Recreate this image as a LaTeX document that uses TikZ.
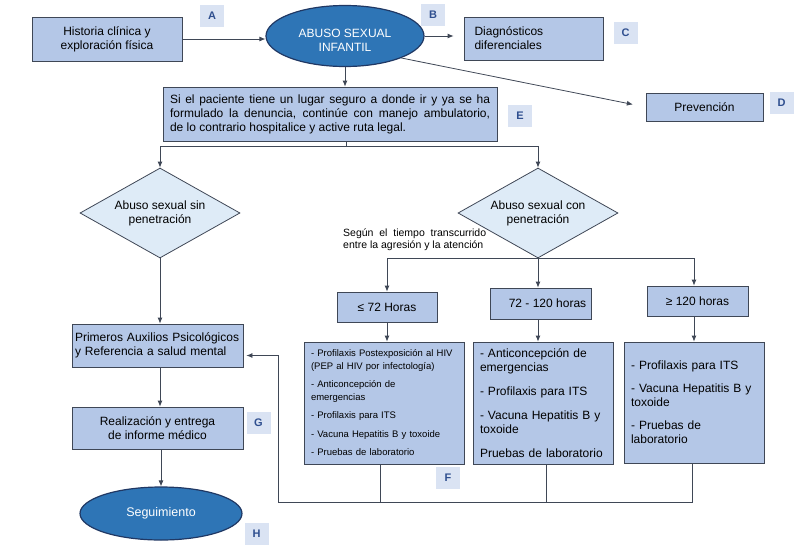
\documentclass[tikz,border=0pt]{standalone}
\usepackage{fontspec}
\setmainfont{Liberation Sans}
\usetikzlibrary{shapes.geometric, arrows.meta}

\definecolor{cajaazul}{HTML}{B4C7E7}
\definecolor{rombo}{HTML}{DEEBF7}
\definecolor{elipse}{HTML}{2E75B6}
\definecolor{elipseborde}{HTML}{203864}
\definecolor{borde}{HTML}{3F4756}
\definecolor{letrafondo}{HTML}{DAE3F3}
\definecolor{letratexto}{HTML}{2F4F8F}
\hyphenpenalty=10000
\exhyphenpenalty=10000

\begin{document}
\begin{tikzpicture}[x=1pt,y=-1pt,
		font=\fontsize{12}{14}\selectfont,
		box/.style = {draw=borde, line width=0.8pt, fill=cajaazul, inner sep=0pt},
		decision/.style = {draw=borde, line width=0.8pt, fill=rombo, diamond, aspect=1.78, inner sep=0pt, minimum width=160pt, minimum height=90pt, align=center},
		inicio/.style = {draw=elipseborde, line width=1.2pt, fill=elipse, ellipse, inner sep=0pt, text=white, align=center},
		letra/.style = {fill=letrafondo, text=letratexto, font=\fontsize{11}{13}\selectfont\bfseries, minimum width=24pt, minimum height=22pt, inner sep=0pt},
		flecha/.style = {draw=borde, line width=0.8pt, -{Latex[length=6pt,width=5pt]}},
		linea/.style = {draw=borde, line width=0.8pt}]
		\useasboundingbox (0,0) rectangle (808,552);

		% parte superior
		\node [box, minimum width=150pt, minimum height=44pt, align=center] (historia) at (107,39) {Historia clínica y\\exploración física};
		\node [inicio, minimum width=158pt, minimum height=61pt] (abuso) at (345,36) {\rule{0pt}{17pt}ABUSO SEXUAL\\INFANTIL};
		\node [box, minimum width=139pt, minimum height=43pt, text width=118pt, align=left] (diag) at (533.5,38.5) {Diagnósticos\\diferenciales};
		\node [box, minimum width=117pt, minimum height=28pt] (prev) at (704.5,107) {Prevención};
		\node [box, minimum width=334pt, minimum height=54pt, text width=320pt, align=justify] (si) at (330,114) {Si el paciente tiene un lugar seguro a donde ir y ya se ha\linebreak formulado la denuncia, continúe con manejo ambulatorio,\linebreak de lo contrario hospitalice y active ruta legal.};

		% decisiones
		\node [decision] (sin) at (160,213) {Abuso sexual sin\\penetración};
		\node [decision] (con) at (538,213) {Abuso sexual con\\penetración};
		\node [anchor=north west, inner sep=0pt, text width=143pt, align=justify, font=\fontsize{10.5}{12}\selectfont] (tiempo) at (343,229) {Según el tiempo transcurrido\linebreak entre la agresión y la atención};

		% tiempos
		\node [box, minimum width=100pt, minimum height=30pt] (h72) at (387,307) {≤ 72 Horas};
		\node [box, minimum width=101pt, minimum height=31pt] (h120a) at (540.5,303.5) {\hspace*{14pt}72 - 120 horas};
		\node [box, minimum width=101pt, minimum height=30pt] (h120b) at (697.5,301) {≥ 120 horas};

		% manejo
		\node [box, minimum width=160pt, minimum height=122pt, text width=146pt, align=left, font=\fontsize{9.5}{12.5}\selectfont] (f1) at (384,403)
			{- Profilaxis Postexposición al HIV\\(PEP al HIV por infectología)\\[6pt]- Anticoncepción de\\emergencias\\[6pt]- Profilaxis para ITS\\[6pt]- Vacuna Hepatitis B y toxoide\\[6pt]- Pruebas de laboratorio};
		\node [box, minimum width=140pt, minimum height=122pt, text width=126pt, align=left] (f2) at (543,403)
			{- Anticoncepción de\\emergencias\\[10pt]- Profilaxis para ITS\\[10pt]- Vacuna Hepatitis B y\\toxoide\\[10pt]Pruebas de laboratorio};
		\node [box, minimum width=140pt, minimum height=121pt, text width=126pt, align=left] (f3) at (694,402.5)
			{- Profilaxis para ITS\\[9pt]- Vacuna Hepatitis B y\\toxoide\\[9pt]- Pruebas de\\laboratorio};

		% columna izquierda
		\node [box, minimum width=171pt, minimum height=43pt, text width=165pt, align=left] (primeros) at (157.5,345.5) {Primeros Auxilios Psicológicos\\y Referencia a salud mental};
		\node [box, minimum width=171pt, minimum height=42pt, align=center] (realiz) at (157.5,428) {Realización y entrega\\de informe médico};
		\node [inicio, minimum width=162pt, minimum height=53pt, font=\fontsize{12.5}{14}\selectfont] (seguim) at (161,513.5) {Seguimiento};

		% letras
		\node [letra] (la) at (212,16) {A};
		\node [letra] (lb) at (433,15) {B};
		\node [letra] (lc) at (625.5,33) {C};
		\node [letra] (ld) at (781.5,103) {D};
		\node [letra] (le) at (520,116) {E};
		\node [letra] (lf) at (448,478) {F};
		\node [letra] (lg) at (258.5,422.5) {G};
		\node [letra] (lh) at (256.5,534) {H};

		% conectores
		\draw [flecha] (historia.east) -- (historia.east -| abuso.west);
		\draw [flecha, shorten >=10pt] (abuso.east) -- (abuso.east -| diag.west);
		\draw [flecha, shorten >=13pt] (abuso.south east) -- (prev.west);
		\draw [flecha] (abuso.south) -- (abuso.south |- si.north);
		\coordinate (rama) at (346,146);
		\draw [linea] (si.south -| rama) -- (rama);
		\draw [flecha] (rama) -| (sin.north);
		\draw [flecha] (rama) -| (con.north);
		\draw [flecha] (con.south) -| (h72.north);
		\draw [flecha] (con.south) -- (con.south |- h120a.north);
		\draw [flecha] (con.south) -| (f3.north |- h120b.north);
		\draw [flecha] (h72.south) -- (h72.south |- f1.north);
		\draw [flecha] (con.south |- h120a.south) -- (con.south |- f2.north);
		\draw [flecha] (f3.north |- h120b.south) -- (f3.north);
		\coordinate (retorno) at (278,502);
		\draw [linea] ([xshift=-4pt]f1.south) -- ([xshift=-4pt]f1.south |- retorno);
		\draw [linea] ([xshift=3pt]f2.south) -- ([xshift=3pt]f2.south |- retorno);
		\draw [flecha, shorten >=3pt] ([xshift=-2pt]f3.south) |- (retorno) |- ([yshift=-10pt]primeros.east);
		\draw [flecha] (sin.south) -- (sin.south |- primeros.north);
		\draw [flecha] (primeros.south -| sin) -- (realiz.north -| sin);
		\draw [flecha] (realiz.south -| seguim) -- (seguim.north);
	\end{tikzpicture}
\end{document}
